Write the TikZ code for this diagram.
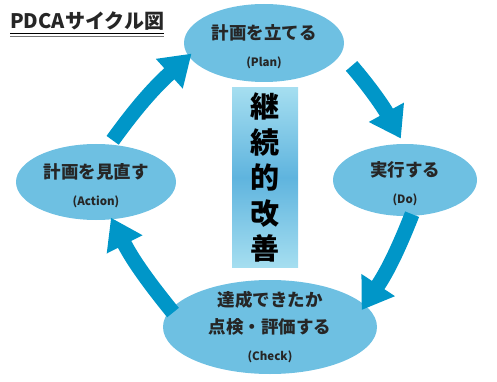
\documentclass[tikz,border=0pt]{standalone}
\usepackage{fontspec}
\newfontfamily\jp{Noto Sans CJK JP}
\usetikzlibrary{shapes.geometric,arrows.meta}
\definecolor{ellblue}{RGB}{110,192,226}
\definecolor{arrowblue}{RGB}{0,150,200}
\definecolor{boxlight}{RGB}{165,222,240}
\definecolor{boxmid}{RGB}{95,180,222}
\begin{document}
\begin{tikzpicture}[x=1pt,y=-1pt,
  phase/.style={ellipse, fill=ellblue, inner sep=0pt},
  phasetext/.style={align=center, inner sep=0pt,
    font=\jp\bfseries\fontsize{17.5}{27}\selectfont, text=black!85},
  cyc/.style={line width=15pt, draw=arrowblue, -{Triangle[length=30pt,width=38pt]}}]
\newcommand\engl[1]{{\fontsize{11.5}{12}\selectfont #1}}
\useasboundingbox (0,0) rectangle (497,382);

% title
\node[anchor=west, inner sep=0pt, font=\jp\bfseries\fontsize{20}{22}\selectfont, text=black!85] (title) at (10,21) {PDCAサイクル図};
\draw[line width=1.6pt] ([yshift=-3pt]title.south west) -- ([yshift=-3pt]title.south east);
\draw[line width=0.8pt, black!55] ([yshift=-6pt]title.south west) -- ([yshift=-6pt]title.south east);

% phases
\node[phase, minimum width=160pt, minimum height=78pt] (plan) at (264,43) {};
\node[phasetext] (plantext) at (264,47) {計画を立てる\\\engl{(Plan)}};
\node[phase, minimum width=144pt, minimum height=72pt] (do) at (405,180) {};
\node[phasetext] (dotext) at (405,184) {実行する\\\engl{(Do)}};
\node[phase, minimum width=214pt, minimum height=94pt] (check) at (270,327) {};
\node[phasetext] (checktext) at (270,327) {達成できたか\\点検・評価する\\\engl{(Check)}};
\node[phase, minimum width=160pt, minimum height=76pt] (action) at (96,182) {};
\node[phasetext] (actiontext) at (96,186) {計画を見直す\\\engl{(Action)}};

% center box
\node[minimum width=66pt, minimum height=179pt, inner sep=0pt,
  top color=boxlight, bottom color=boxlight, middle color=boxmid,
  align=center, font=\jp\bfseries\fontsize{29}{35.5}\selectfont] (kaizen) at (265,177.5)
  {継\\続\\的\\改\\善};

% cycle arrows
\draw[cyc, shorten <=5pt, shorten >=-4pt] (action.70) to[bend left=6] (plan.190);
\draw[cyc, shorten <=16pt, shorten >=6pt] (plan.352) to[bend left=6] (do.92);
\draw[cyc, shorten <=-2pt, shorten >=-6pt] (do.280) to[bend left=6] (check.13);
\draw[cyc, shorten <=-4pt, shorten >=-2pt] (check.170) to[bend left=6] (action.293);
\end{tikzpicture}
\end{document}
